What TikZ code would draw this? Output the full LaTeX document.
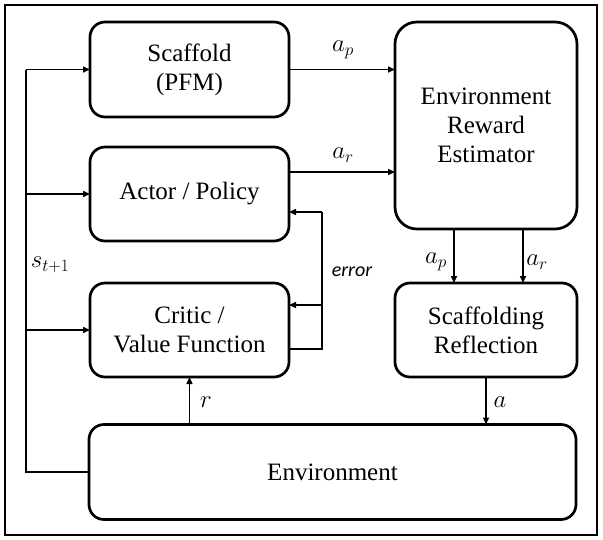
\documentclass[tikz,border=0pt]{standalone}
\usepackage{fontspec}
\setmainfont{Liberation Serif}
\newfontfamily\timesf{Liberation Serif}
\newfontfamily\calibri{Carlito}
\usetikzlibrary{arrows.meta,calc}
\begin{document}
\begin{tikzpicture}[x=1pt,y=-1pt,
  box/.style={draw,line width=2.7pt,rounded corners=15pt,align=center,inner sep=0pt,outer sep=0pt,
    font=\timesf\fontsize{25}{29}\selectfont},
  conn/.style={line width=1.5pt},
  arr/.style={conn,-{Triangle[length=7pt,width=6pt]}},
  lab/.style={font=\fontsize{25}{28}\selectfont,inner sep=0pt}]
\useasboundingbox (0,0) rectangle (603,539);
\draw[line width=2.8pt] (5,5) rectangle (597,535);

\node[box,minimum width=199pt,minimum height=95pt] (scaffold) at (189.5,69.5) {Scaffold\\(PFM)};
\node[box,minimum width=199pt,minimum height=94pt] (actor) at (189.5,194) {Actor / Policy};
\node[box,minimum width=199pt,minimum height=94pt] (critic) at (189.5,330) {Critic /\\Value Function};
\node[box,rounded corners=22pt,minimum width=182pt,minimum height=207pt] (est) at (486,125.5) {Environment\\Reward\\Estimator};
\node[box,minimum width=182pt,minimum height=94pt] (refl) at (486,330) {Scaffolding\\Reflection};
\node[box,minimum width=487pt,minimum height=95pt] (env) at (332.5,472) {Environment};

% state feedback
\coordinate (lt) at (26,69.5);
\draw[conn] (env.west) -| (lt);
\draw[arr] (lt) -- (scaffold.west);
\draw[arr] (lt |- actor.west) -- (actor.west);
\draw[arr] (lt |- critic.west) -- (critic.west);
\node[lab] (st) at (50,265) {$s_{t+1}$};

% actions to estimator
\draw[arr] (scaffold.east) -- (scaffold.east -| est.west);
\node[lab] (lap) at (343,50) {$a_p$};
\coordinate (arS) at ($(actor.east)+(0,-22)$);
\draw[arr] (arS) -- (arS -| est.west);
\node[lab] (lar) at (343,155) {$a_r$};

% error loop
\coordinate (eS) at ($(critic.east)+(0,19)$);
\coordinate (eb) at (322,349);
\coordinate (et) at (322,212);
\coordinate (eC) at ($(critic.east)+(0,-25)$);
\draw[conn] (eS) -- (eb) -- (et);
\draw[arr] (et) -- (et -| actor.east);
\draw[arr] (eb |- eC) -- (eC);
\node[font=\calibri\itshape\fontsize{20}{24}\selectfont,inner sep=0pt] (err) at (352,272) {error};

% estimator to reflection
\coordinate (p1) at ($(est.south)+(-32,0)$);
\coordinate (p2) at ($(est.south)+(37,0)$);
\draw[arr] (p1) -- (p1 |- refl.north);
\draw[arr] (p2) -- (p2 |- refl.north);
\node[lab] (lap2) at (436,262) {$a_p$};
\node[lab] (lar2) at (537,262) {$a_r$};

% reflection to environment
\draw[arr] (refl.south) -- (refl.south |- env.north);
\node[lab] (la) at (500,402) {$a$};

% reward
\draw[arr] (critic.south |- env.north) -- (critic.south);
\node[lab] (lr) at (206,402) {$r$};
\end{tikzpicture}
\end{document}
